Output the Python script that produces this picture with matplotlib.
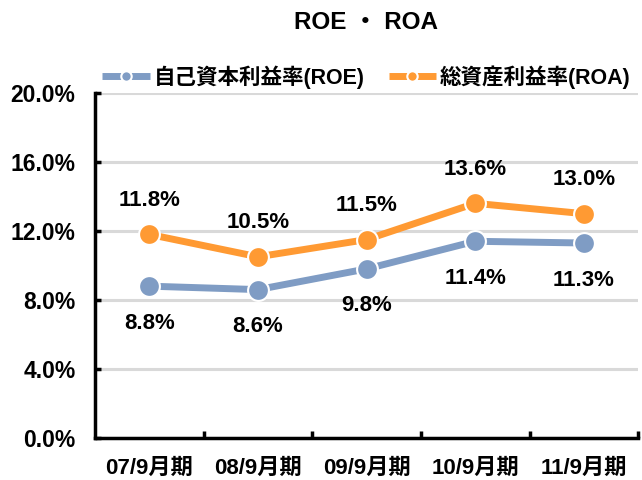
import matplotlib
matplotlib.use('agg')
import matplotlib.pyplot as plt

# data
periods = ["07/9月期", "08/9月期", "09/9月期", "10/9月期", "11/9月期"]
roe = [8.8, 8.6, 9.8, 11.4, 11.3]
roa = [11.8, 10.5, 11.5, 13.6, 13.0]
yticks = [0, 4, 8, 12, 16, 20]

roe_color = "#7f9cc4"
roa_color = "#ff9a33"
fonts = ["Liberation Sans", "Noto Sans CJK JP", "DejaVu Sans"]
plt.rcParams['font.family'] = fonts
plt.rcParams['font.weight'] = 'bold'

fig = plt.figure(figsize=(6.42, 4.8), dpi=100)
ax = fig.add_axes([0.148, 0.0875, 0.846, 0.719])

x = list(range(len(periods)))
ax.plot(x, roe, color=roe_color, lw=5, marker='o', ms=15,
        mec='white', mew=1.5, solid_capstyle='butt', zorder=3,
        label="自己資本利益率(ROE)")
ax.plot(x, roa, color=roa_color, lw=5, marker='o', ms=15,
        mec='white', mew=1.5, solid_capstyle='butt', zorder=3,
        label="総資産利益率(ROA)")

for i in x:
    ax.annotate("%.1f%%" % roe[i], (i, roe[i]), xytext=(0, -37),
                textcoords='offset pixels', ha='center', va='center',
                fontsize=16, fontweight='bold')
    ax.annotate("%.1f%%" % roa[i], (i, roa[i]), xytext=(0, 34),
                textcoords='offset pixels', ha='center', va='center',
                fontsize=16, fontweight='bold')

ax.set_xlim(-0.5, len(periods) - 0.5)
ax.set_ylim(0, 20)
ax.set_yticks(yticks)
ax.set_yticklabels(["%.1f%%" % v for v in yticks], fontsize=16.5, fontweight='bold')
ax.set_xticks(x)
ax.set_xticklabels(periods, fontsize=16, fontweight='bold')
ax.set_xticks([i + 0.5 for i in x], minor=True)
ax.tick_params(axis='x', which='major', length=0, pad=14)
ax.tick_params(axis='x', which='minor', direction='in', length=5, width=2.5)
ax.tick_params(axis='y', direction='in', length=4, width=2.5, pad=14)
ax.grid(axis='y', color='#d9d9d9', lw=2.2, zorder=0)
ax.set_axisbelow(True)
for s in ['top', 'right']:
    ax.spines[s].set_visible(False)
for s in ['left', 'bottom']:
    ax.spines[s].set_linewidth(2.5)

leg = ax.legend(loc='lower center', bbox_to_anchor=(0.5, 1.0), ncol=2,
                frameon=False, fontsize=15.5, handlelength=2.2,
                columnspacing=1.1, handletextpad=0.2, borderaxespad=0.0,
                borderpad=0.2, markerscale=0.5)
for t in leg.get_texts():
    t.set_fontweight('bold')

fig.text(0.57, 0.954, "ROE ・ ROA", ha='center', va='center',
         fontsize=17.5, fontweight='bold')

fig.savefig("out.png", dpi=100)
